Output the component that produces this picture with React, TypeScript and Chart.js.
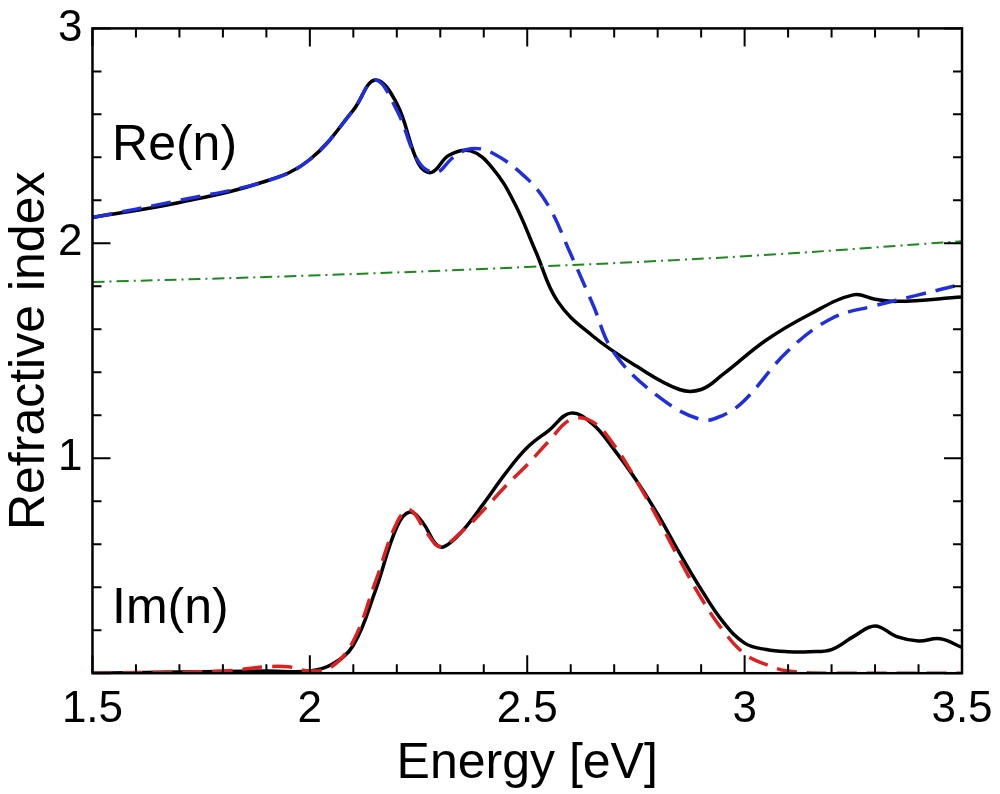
import React, { useEffect, useRef } from "react";
import { Chart, registerables } from "chart.js";
Chart.register(...registerables);

const reX = [1.5,1.7,1.9,2.0,2.1,2.15,2.2,2.25,2.28,2.32,2.37,2.42,2.47,2.52,2.57,2.65,2.75,2.85,2.9,2.95,3.05,3.15,3.25,3.3,3.35,3.5];
const reBlack = [2.12,2.19,2.29,2.39,2.62,2.76,2.65,2.37,2.33,2.41,2.43,2.35,2.19,1.96,1.73,1.57,1.43,1.32,1.32,1.39,1.55,1.67,1.76,1.74,1.73,1.75];
const reFitX = [1.5,1.7,1.9,2.0,2.1,2.15,2.2,2.25,2.29,2.33,2.37,2.42,2.5,2.55,2.6,2.65,2.7,2.8,2.9,2.95,3.0,3.1,3.2,3.3,3.4,3.5];
const reBlue = [2.12,2.20,2.29,2.39,2.62,2.76,2.62,2.38,2.33,2.40,2.44,2.42,2.30,2.17,1.95,1.72,1.49,1.29,1.18,1.20,1.27,1.50,1.65,1.71,1.76,1.81];
const bgX = [1.5,2.0,2.5,3.0,3.5];
const bgGreen = [1.82,1.85,1.89,1.94,2.01];
const imX = [1.5,1.9,2.0,2.05,2.1,2.15,2.2,2.23,2.26,2.29,2.31,2.35,2.4,2.45,2.5,2.55,2.6,2.65,2.7,2.75,2.8,2.85,2.9,2.95,3.0,3.05,3.1,3.15,3.2,3.25,3.3,3.35,3.4,3.45,3.5];
const imBlack = [0,0.01,0.01,0.04,0.13,0.38,0.68,0.75,0.70,0.60,0.59,0.66,0.79,0.93,1.05,1.13,1.21,1.16,1.04,0.90,0.74,0.56,0.39,0.24,0.14,0.11,0.10,0.10,0.11,0.17,0.22,0.17,0.15,0.16,0.12];
const imFitX = [1.5,1.8,1.9,1.95,2.0,2.05,2.1,2.15,2.2,2.23,2.27,2.3,2.35,2.4,2.45,2.5,2.55,2.6,2.65,2.7,2.75,2.8,2.85,2.9,2.95,3.0,3.05,3.1,3.2,3.5];
const imRed = [0,0.01,0.03,0.03,0.01,0.03,0.15,0.42,0.70,0.76,0.65,0.59,0.66,0.76,0.87,0.97,1.08,1.18,1.17,1.06,0.90,0.72,0.53,0.35,0.20,0.09,0.04,0.01,0,0];

const xMajor = [1.5,2,2.5,3,3.5];
const yMajor = [1,2,3];

const pts = (xs: number[], ys: number[]) => xs.map((x, i) => ({ x, y: ys[i] }));
const FONT = "'Liberation Sans', Arial, sans-serif";

const framePlugin = {
  id: "frame",
  afterDraw(chart: any) {
    const { ctx, chartArea: a, scales } = chart;
    const xs = scales.x, ys = scales.y;
    ctx.save();
    ctx.strokeStyle = "#000";
    ctx.lineWidth = 2.5;
    ctx.strokeRect(a.left, a.top, a.right - a.left, a.bottom - a.top);
    ctx.lineWidth = 2;
    for (let i = 0; i <= 20; i++) {
      const v = 1.5 + i * 0.1;
      const L = i % 5 === 0 ? 18 : 9;
      const px = xs.getPixelForValue(v);
      ctx.beginPath();
      ctx.moveTo(px, a.bottom); ctx.lineTo(px, a.bottom - L);
      ctx.moveTo(px, a.top); ctx.lineTo(px, a.top + L);
      ctx.stroke();
    }
    for (let i = 0; i <= 15; i++) {
      const v = i * 0.2;
      const L = i % 5 === 0 ? 18 : 9;
      const py = ys.getPixelForValue(v);
      ctx.beginPath();
      ctx.moveTo(a.left, py); ctx.lineTo(a.left + L, py);
      ctx.moveTo(a.right, py); ctx.lineTo(a.right - L, py);
      ctx.stroke();
    }
    ctx.fillStyle = "#000";
    ctx.font = `50px ${FONT}`;
    ctx.textBaseline = "middle";
    ctx.fillText("Re(n)", xs.getPixelForValue(1.545), ys.getPixelForValue(2.45));
    ctx.fillText("Im(n)", xs.getPixelForValue(1.545), ys.getPixelForValue(0.3));
    ctx.restore();
  },
};

export default function App() {
  const ref = useRef<HTMLCanvasElement>(null);
  useEffect(() => {
    document.body.style.margin = "0";
    const chart = new Chart(ref.current!, {
      type: "line",
      data: {
        datasets: [
          { data: pts(bgX, bgGreen), borderColor: "#1a8a1a", borderWidth: 2, borderDash: [12, 5, 2, 5], pointRadius: 0, tension: 0.4 },
          { data: pts(reFitX, reBlue), borderColor: "#1f2fe0", borderWidth: 3.5, borderDash: [20, 10], pointRadius: 0, tension: 0.4 },
          { data: pts(imFitX, imRed), borderColor: "#e02020", borderWidth: 3.5, borderDash: [20, 10], pointRadius: 0, tension: 0.4 },
          { data: pts(reX, reBlack), borderColor: "#000", borderWidth: 3.5, pointRadius: 0, tension: 0.4 },
          { data: pts(imX, imBlack), borderColor: "#000", borderWidth: 3.5, pointRadius: 0, tension: 0.4 },
        ],
      },
      options: {
        animation: false,
        responsive: false,
        layout: { padding: { top: 8, right: 38, left: 0, bottom: 0 } },
        plugins: { legend: { display: false }, tooltip: { enabled: false } },
        scales: {
          x: {
            type: "linear", min: 1.5, max: 3.5,
            afterBuildTicks: (s: any) => { s.ticks = xMajor.map((v) => ({ value: v })); },
            ticks: { color: "#000", font: { size: 44, family: FONT }, padding: 2, maxRotation: 0, callback: (v: any) => String(v) },
            grid: { display: false },
            border: { display: false },
            title: { display: true, text: "Energy [eV]", color: "#000", font: { size: 50, family: FONT }, padding: { top: -4, bottom: 0 } },
          },
          y: {
            type: "linear", min: 0, max: 3,
            afterBuildTicks: (s: any) => { s.ticks = yMajor.map((v) => ({ value: v })); },
            ticks: { color: "#000", font: { size: 44, family: FONT }, padding: 2, callback: (v: any) => String(v) },
            grid: { display: false },
            border: { display: false },
            title: { display: true, text: "Refractive index", color: "#000", font: { size: 50, family: FONT }, padding: { top: 0, bottom: -4 } },
          },
        },
      },
      plugins: [framePlugin],
    });
    return () => chart.destroy();
  }, []);
  return <canvas ref={ref} width={1000} height={794} style={{ display: "block" }} />;
}
